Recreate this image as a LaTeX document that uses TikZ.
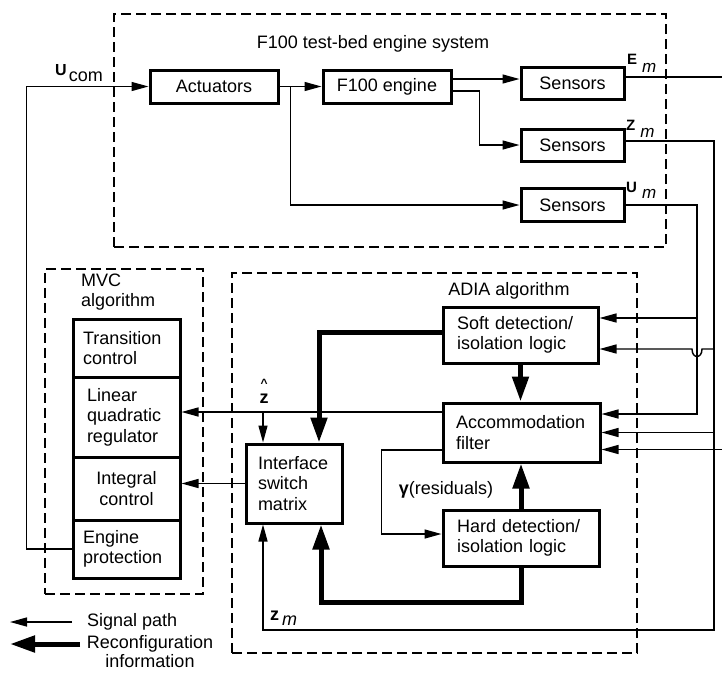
\documentclass[tikz,border=0pt]{standalone}
\usepackage{fontspec}
\setmainfont{Liberation Sans}
\usetikzlibrary{arrows.meta,calc}
\newcommand{\dfont}{\fontsize{18}{20.5}\selectfont}
\tikzset{
  box/.style={draw, line width=3pt, inner sep=0pt, align=left},
  dbox/.style={draw, line width=2.2pt, dash pattern=on 10pt off 5pt, inner sep=0pt},
  sig/.style={line width=1.4pt, -{Triangle[length=17pt,width=9pt]}},
  plain/.style={line width=1.4pt},
  rec/.style={line width=5pt, -{Triangle[length=25pt,width=16pt]}},
  lbl/.style={inner sep=0pt},
}
\begin{document}
\begin{tikzpicture}[x=1pt,y=-1pt, every node/.style={font=\dfont}]
\useasboundingbox (0,0) rectangle (722,673);

% containers
\node[dbox, minimum width=552pt, minimum height=233pt] (sys) at (390,130.5) {};
\node[dbox, minimum width=158pt, minimum height=325pt] (mvc) at (124,431.5) {};
\node[dbox, minimum width=405pt, minimum height=380pt] (adia) at (434.5,463) {};

\node[lbl] (systitle) at (373,44) {F100 test-bed engine system};
\node[lbl] (adiatitle) at (509,291) {ADIA algorithm};
\node[lbl, align=left, anchor=west] (mvctitle) at (81,292) {MVC\\algorithm};

% engine system
\node[box, align=center, minimum width=128pt, minimum height=33pt] (act) at (214,86.5) {Actuators};
\node[box, align=center, minimum width=128pt, minimum height=33pt] (eng) at (387,86.5) {F100 engine};
\node[box, align=center, minimum width=103pt, minimum height=32pt] (s1) at (572.5,83.5) {Sensors};
\node[box, align=center, minimum width=103pt, minimum height=32pt] (s2) at (572.5,145) {Sensors};
\node[box, align=center, minimum width=103pt, minimum height=33pt] (s3) at (572.5,205) {Sensors};

% MVC stack
\node[box, minimum width=107pt, minimum height=58pt, inner xsep=10pt, text width=87pt] (tc) at (126.5,348) {Transition\\control};
\node[box, minimum width=107pt, minimum height=80pt, inner xsep=14pt, text width=79pt] (lqr) at (126.5,417) {Linear\\quadratic\\regulator};
\node[box, align=center, minimum width=107pt, minimum height=63pt, inner xsep=10pt, text width=87pt] (ic) at (126.5,488.5) {Integral\\control};
\node[box, minimum width=107pt, minimum height=58pt, inner xsep=10pt, text width=87pt] (ep) at (126.5,549) {Engine\\protection};

% ADIA blocks
\node[box, minimum width=155pt, minimum height=56pt, inner xsep=14pt, text width=127pt] (soft) at (520.5,335) {Soft detection/\\isolation logic};
\node[box, minimum width=157pt, minimum height=59pt, inner xsep=13pt, text width=131pt] (acc) at (521.5,432.5) {Accommodation\\filter};
\node[box, minimum width=156pt, minimum height=56pt, inner xsep=14pt, text width=128pt] (hard) at (521,538) {Hard detection/\\isolation logic};
\node[box, minimum width=96pt, minimum height=79pt, inner xsep=12pt, text width=72pt] (isw) at (294,483.5) {Interface\\switch\\matrix};

% labels
\node[lbl, anchor=base west] (ucom) at (55,75) {{\fontsize{16}{16}\selectfont\bfseries U}\hspace{2pt}\raisebox{-6pt}{com}};
\node[lbl, anchor=base west] (em) at (627,64) {{\fontsize{15}{15}\selectfont\bfseries E}\hspace{5pt}\raisebox{-8pt}{\fontsize{17}{17}\selectfont\itshape m}};
\node[lbl, anchor=base west] (zmtop) at (626,130) {{\fontsize{15}{15}\selectfont\bfseries Z}\hspace{5pt}\raisebox{-7pt}{\fontsize{17}{17}\selectfont\itshape m}};
\node[lbl, anchor=base west] (umtop) at (626,192) {{\fontsize{15}{15}\selectfont\bfseries U}\hspace{5pt}\raisebox{-6pt}{\fontsize{17}{17}\selectfont\itshape m}};
\node[lbl, anchor=base west] (zmbot) at (270,620) {\textbf{z}\hspace{3pt}\raisebox{-5pt}{\itshape m}};
\node[lbl, anchor=base] (zhat) at (264,403) {\textbf{z}};
\node[lbl, anchor=north] (zhatc) at (264,379) {\fontsize{12}{12}\selectfont\bfseries\textasciicircum};
\node[lbl] (resid) at (446,490) {\textbf{γ}(residuals)};

% engine system connectors
\draw[sig] (ep.west) -- ++(-45,0) |- (act.west);
\draw[sig] (act.east) -- (eng.west);
\draw[sig] (act.east) ++(11,0) |- (s3.west);
\draw[sig] ([yshift=7.5pt]eng.east) -- ([yshift=4.5pt]s1.west);
\draw[sig] ([yshift=-4.5pt]eng.east) -- ++(27,0) |- (s2.west);

\coordinate (emout) at (722,77);
\coordinate (emin) at (722,449.5);
\coordinate (zx) at (714,0);
\coordinate (ux) at (697,0);
\coordinate (zbot) at (714,630);
\draw[plain] (emout -| s1.east) -- (emout);

% Zm
\draw[sig] ([yshift=4pt]s2.east) -| (zbot) -| ([xshift=-31pt]isw.south);
% Um
\coordinate (a1) at ([yshift=18.5pt]acc.east);
\draw[sig] (s3.east) -| (ux |- a1) -- (a1);
\coordinate (sf1) at ([yshift=17pt]soft.east);
\draw[sig] (ux |- sf1) -- (sf1);
\coordinate (sf2) at ([yshift=-14pt]soft.east);
\draw[sig] (zx |- sf2) -- ($(ux |- sf2)+(5,0)$) .. controls +(0,10) and +(0,10) .. ($(ux |- sf2)+(-5,0)$) -- (sf2);
\draw[sig] (zx |- acc.east) -- (acc.east);
\draw[sig] (emin) -- (emin -| acc.east);

% ADIA internal
\coordinate (zh) at ([yshift=20.5pt]acc.west);
\draw[sig] (zh) -- (zh -| lqr.east);
\coordinate (iswL) at ([xshift=-31pt]isw.north);
\draw[sig] (zh -| iswL) -- (iswL);
\draw[rec] ([yshift=3pt]soft.west) -| ([xshift=25pt]isw.north);
\draw[rec] (soft.south) -- (soft.south |- acc.north);
\draw[rec] (hard.north) -- (hard.north |- acc.south);
\draw[rec] (hard.south) -- ++(0,35) -| ([xshift=27pt]isw.south);
\draw[sig] ([yshift=-17.5pt]acc.west) -- ++(-60,0) |- ([yshift=4pt]hard.west);
\draw[sig] (isw.west) -- (isw.west -| ic.east);

% legend
\coordinate (lgA) at (72,622);
\coordinate (lgB) at (10,622);
\coordinate (lgC) at (80,644);
\coordinate (lgD) at (10,644);
\draw[sig] (lgA) -- (lgB);
\draw[rec] (lgC) -- (lgD);
\node[lbl, anchor=west] (lgt1) at (87,622) {Signal path};
\node[lbl, align=center, font=\fontsize{18}{19}\selectfont] (lgt2) at (150,652) {Reconfiguration\\information};
\end{tikzpicture}
\end{document}
